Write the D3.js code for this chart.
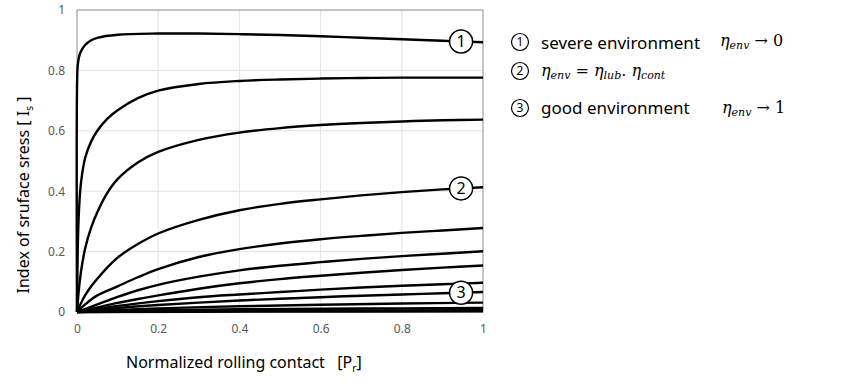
<!DOCTYPE html>
<html>
<head>
<meta charset="utf-8">
<script src="https://cdn.jsdelivr.net/npm/d3@7"></script>
<style>
  body { margin: 0; background: #fff; overflow: hidden; }
  svg { display: block; }
  text { font-family: "Noto Sans", "Open Sans", sans-serif; }
  .math { font-family: "DejaVu Serif", "Liberation Serif", serif; font-style: italic; }
</style>
</head>
<body>
<svg id="drawing_region"></svg>
<script>
var width = 850;
var height = 384;
var margin = {top: 10, right: 367, bottom: 72, left: 77};

// curves, top to bottom: [Pr, Is]
const curve1 = [[0,0],[0.001,0.8],[0.003,0.83],[0.006,0.85],[0.01,0.864],[0.02,0.884],[0.035,0.9],[0.05,0.908],[0.1,0.918],[0.2,0.922],[0.3,0.922],[0.4,0.92],[0.5,0.917],[0.6,0.913],[0.7,0.908],[0.8,0.903],[0.9,0.898],[1,0.893]];
const curve2 = [[0,0],[0.002,0.22],[0.005,0.34],[0.01,0.43],[0.02,0.51],[0.035,0.565],[0.05,0.6],[0.075,0.64],[0.1,0.668],[0.15,0.708],[0.2,0.733],[0.3,0.755],[0.4,0.765],[0.5,0.77],[0.6,0.773],[0.7,0.775],[0.8,0.776],[0.9,0.776],[1,0.776]];
const curve3 = [[0,0],[0.005,0.08],[0.01,0.135],[0.02,0.21],[0.035,0.28],[0.05,0.33],[0.075,0.395],[0.1,0.44],[0.15,0.495],[0.2,0.53],[0.3,0.57],[0.4,0.594],[0.5,0.609],[0.6,0.619],[0.7,0.626],[0.8,0.631],[0.9,0.635],[1,0.637]];
const curve4 = [[0,0],[0.01,0.03],[0.02,0.055],[0.035,0.085],[0.05,0.11],[0.075,0.148],[0.1,0.18],[0.15,0.225],[0.2,0.26],[0.3,0.305],[0.4,0.337],[0.5,0.358],[0.6,0.373],[0.7,0.386],[0.8,0.397],[0.9,0.406],[1,0.413]];
const curve5 = [[0,0],[0.02,0.025],[0.05,0.055],[0.1,0.085],[0.15,0.115],[0.2,0.142],[0.3,0.182],[0.4,0.208],[0.5,0.227],[0.6,0.241],[0.7,0.252],[0.8,0.262],[0.9,0.27],[1,0.278]];
const curve6 = [[0,0],[0.05,0.025],[0.1,0.05],[0.15,0.072],[0.2,0.09],[0.3,0.117],[0.4,0.138],[0.5,0.153],[0.6,0.165],[0.7,0.176],[0.8,0.185],[0.9,0.193],[1,0.201]];
const curve7 = [[0,0],[0.05,0.015],[0.1,0.03],[0.15,0.043],[0.2,0.055],[0.3,0.077],[0.4,0.095],[0.5,0.109],[0.6,0.12],[0.7,0.13],[0.8,0.139],[0.9,0.147],[1,0.154]];
const curve8 = [[0,0],[0.1,0.02],[0.2,0.036],[0.3,0.049],[0.4,0.058],[0.5,0.066],[0.6,0.074],[0.7,0.081],[0.8,0.087],[0.9,0.092],[1,0.097]];
const curve9 = [[0,0],[0.1,0.013],[0.2,0.023],[0.3,0.031],[0.4,0.038],[0.5,0.044],[0.6,0.049],[0.7,0.054],[0.8,0.058],[0.9,0.062],[1,0.066]];
const curve10 = [[0,0],[0.1,0.007],[0.2,0.012],[0.4,0.019],[0.6,0.024],[0.8,0.028],[1,0.031]];
const curve11 = [[0,0],[0.2,0.006],[0.4,0.009],[0.6,0.011],[0.8,0.012],[1,0.013]];
const curve12 = [[0,0],[0.5,0.004],[1,0.006]];
const curve13 = [[0,0],[0.5,0.0015],[1,0.002]];
const curves = [curve1, curve2, curve3, curve4, curve5, curve6, curve7, curve8, curve9, curve10, curve11, curve12, curve13];

const ticks = [0, 0.2, 0.4, 0.6, 0.8, 1];
// markers: label, which curve, Pr position
const markers = [["1", 0, 0.946], ["2", 3, 0.946], ["3", 8, 0.946]];

var svg = d3.select('#drawing_region')
      .attr('width', width)
      .attr('height', height);

var chart = svg.append('g')
      .attr('transform', `translate(${margin.left}, ${margin.top})`);

const innerWidth = width - margin.left - margin.right;
const innerHeight = height - margin.top - margin.bottom;

const xscale = d3.scaleLinear().domain([0, 1]).range([0, innerWidth]);
const yscale = d3.scaleLinear().domain([0, 1]).range([innerHeight, 0]);

// grid
chart.append('g').selectAll('line.gx')
      .data(ticks.slice(1, -1))
      .enter().append('line')
      .attr('x1', d => xscale(d)).attr('x2', d => xscale(d))
      .attr('y1', 0).attr('y2', innerHeight)
      .attr('stroke', '#e2e2e2');
chart.append('g').selectAll('line.gy')
      .data(ticks.slice(1, -1))
      .enter().append('line')
      .attr('x1', 0).attr('x2', innerWidth)
      .attr('y1', d => yscale(d)).attr('y2', d => yscale(d))
      .attr('stroke', '#e2e2e2');

chart.append('rect')
      .attr('width', innerWidth).attr('height', innerHeight)
      .attr('fill', 'none').attr('stroke', '#8c8c8c');

const line = d3.line()
      .x(d => xscale(d[0]))
      .y(d => yscale(d[1]))
      .curve(d3.curveCatmullRom.alpha(0.5));

chart.selectAll('path.curve')
      .data(curves)
      .enter().append('path')
      .attr('class', 'curve')
      .attr('d', d => line(d))
      .attr('fill', 'none')
      .attr('stroke', 'black')
      .attr('stroke-width', 2.4);

// axes
const xAxis = d3.axisBottom(xscale).tickValues(ticks).tickSize(0).tickPadding(12).tickFormat(d3.format('~g'));
const yAxis = d3.axisLeft(yscale).tickValues(ticks).tickSize(0).tickPadding(12).tickFormat(d3.format('~g'));

const gx = chart.append('g').attr('transform', `translate(0, ${innerHeight})`).call(xAxis);
const gy = chart.append('g').call(yAxis);
[gx, gy].forEach(g => {
      g.select('.domain').remove();
      g.selectAll('text').attr('fill', '#595959').style('font-size', '12px')
            .style('font-family', '"Noto Sans", sans-serif');
});

// markers on curves
function curveY(c, x) {
      for (let i = 1; i < c.length; i++) {
            if (c[i][0] >= x) {
                  const t = (x - c[i-1][0]) / (c[i][0] - c[i-1][0]);
                  return c[i-1][1] + t * (c[i][1] - c[i-1][1]);
            }
      }
      return c[c.length - 1][1];
}
const mk = chart.selectAll('g.mk')
      .data(markers)
      .enter().append('g')
      .attr('transform', d => `translate(${xscale(d[2])}, ${yscale(curveY(curves[d[1]], d[2]))})`);
mk.append('circle').attr('r', 11.5).attr('fill', 'white').attr('stroke', 'black').attr('stroke-width', 1.5);
mk.append('text').text(d => d[0]).attr('text-anchor', 'middle').attr('dy', '0.36em')
      .style('font-size', '16px').attr('fill', 'black');

// axis titles
const yt = svg.append('text')
      .attr('transform', `translate(29, ${margin.top + innerHeight / 2 + 34}) rotate(-90)`)
      .attr('text-anchor', 'middle')
      .style('font-size', '16px');
yt.append('tspan').text('Index of sruface sress [ I');
yt.append('tspan').text('s').style('font-size', '10px').attr('dy', 4);
yt.append('tspan').text(' ]').attr('dy', -4);

const xt = svg.append('text')
      .attr('x', 126).attr('y', 368)
      .style('font-size', '16px');
xt.append('tspan').text('Normalized rolling contact\u00a0\u00a0\u00a0[P');
xt.append('tspan').text('r').style('font-size', '10px').attr('dy', 4);
xt.append('tspan').text(']').attr('dy', -4);

// legend
const legendRows = [["1", 42], ["2", 71], ["3", 108]];
const lg = svg.append('g');
legendRows.forEach(r => {
      lg.append('circle').attr('cx', 520).attr('cy', r[1]).attr('r', 8.5)
            .attr('fill', 'white').attr('stroke', 'black').attr('stroke-width', 1.2);
      lg.append('text').attr('x', 520).attr('y', r[1]).attr('dy', '0.36em')
            .attr('text-anchor', 'middle').style('font-size', '12px').text(r[0]);
});
function mathText(x, y, parts) {
      const t = lg.append('text').attr('class', 'math').attr('x', x).attr('y', y).style('font-size', '16px');
      parts.forEach(p => {
            const s = t.append('tspan').text(p[0]);
            if (p[1] === 'sub') s.style('font-size', '11px').attr('dy', 3);
            if (p[1] === 'up') s.attr('dy', -3);
            if (p[2]) s.style('font-style', 'normal');
      });
}
lg.append('text').attr('x', 541).attr('y', 49).style('font-size', '17px').text('severe environment');
mathText(720, 46, [['\u03b7'], ['env', 'sub'], [' \u2192 0', 'up', true]]);
mathText(541, 76, [['\u03b7'], ['env', 'sub'], [' = ', 'up', true], ['\u03b7'], ['lub', 'sub'], ['. ', 'up', true], ['\u03b7'], ['cont', 'sub']]);
lg.append('text').attr('x', 541).attr('y', 114).style('font-size', '17px').text('good environment');
mathText(722, 113, [['\u03b7'], ['env', 'sub'], [' \u2192 1', 'up', true]]);
</script>
</body>
</html>
